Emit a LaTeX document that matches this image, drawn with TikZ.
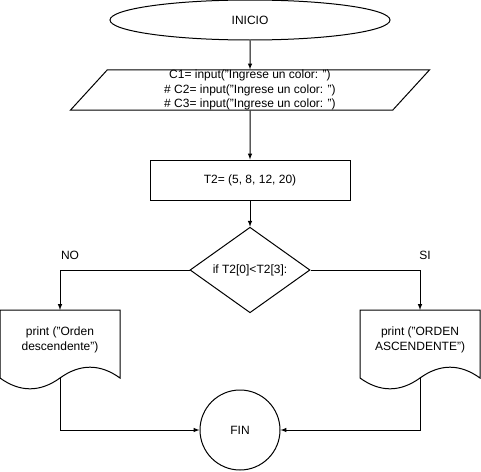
\documentclass[tikz,border=0pt]{standalone}
\usepackage{fontspec}
\setmainfont{Liberation Sans}
\usepackage{tikz}
\usetikzlibrary{shapes.geometric}
\tikzstyle{txt}=[font=\fontsize{12}{14.5}\selectfont,text=black,align=center]
\tikzstyle{terminal}=[ellipse,draw,txt,minimum width=280pt,minimum height=40pt,inner sep=0pt]
\tikzstyle{io}=[trapezium,draw,txt,trapezium left angle=61.2,trapezium right angle=118.8,trapezium stretches=true,minimum width=360pt,minimum height=40pt,inner sep=0pt]
\tikzstyle{process}=[rectangle,draw,txt,minimum width=200pt,minimum height=40pt]
\tikzstyle{decision}=[diamond,draw,txt,minimum width=120pt,minimum height=80pt,inner sep=0pt]
\tikzstyle{stop}=[circle,draw,txt,minimum size=80pt,inner sep=0pt]
\tikzstyle{doc}=[draw,line width=1pt]
\tikzstyle{flow}=[->,line width=1pt,>=latex]

\begin{document}
\begin{tikzpicture}[x=1pt,y=-1pt,line width=1pt]
  \useasboundingbox (0,0) rectangle (481,471);

  \node[terminal] (inicio) at (250,20) {INICIO};
  \node[io] (entrada) at (250,90) {C1= input("Ingrese un color: ")\\\# C2= input("Ingrese un color: ")\\\# C3= input("Ingrese un color: ")};
  \node[process] (tabla) at (250,180) {T2= (5, 8, 12, 20)};
  \node[decision] (cond) at (250,270) {if T2[0]<T2[3]:};
  \node[txt] (no) at (70,255) {NO};
  \node[txt] (si) at (425,255) {SI};

  % documentos
  \draw[doc] (0,310) -- (60,310) coordinate (NOt) -- (120,310) -- (120,378)
    .. controls (100,363.6) and (80,363.6) .. (60,378) coordinate (NOb)
    .. controls (40,392.4) and (20,392.4) .. (0,378) -- cycle;
  \node[txt] (docNO) at (60,340) {print ("Orden\\descendente")};
  \draw[doc] (360,310) -- (420,310) coordinate (SIt) -- (480,310) -- (480,378)
    .. controls (460,363.6) and (440,363.6) .. (420,378) coordinate (SIb)
    .. controls (400,392.4) and (380,392.4) .. (360,378) -- cycle;
  \node[txt] (docSI) at (420,340) {print ("ORDEN\\ASCENDENTE")};

  \node[stop] (fin) at (240,430) {FIN};

  \draw[flow] (inicio.south)--(entrada.north);
  \draw[flow] (entrada.south)--(tabla.north);
  \draw[flow] (tabla.south)--(cond.north);
  \draw[flow] (cond.west)-|(NOt); \draw[flow] (cond.east)-|(SIt);
  \draw[flow] (NOb)|-(fin.west); \draw[flow] (SIb)|-(fin.east);

\end{tikzpicture}
\end{document}
